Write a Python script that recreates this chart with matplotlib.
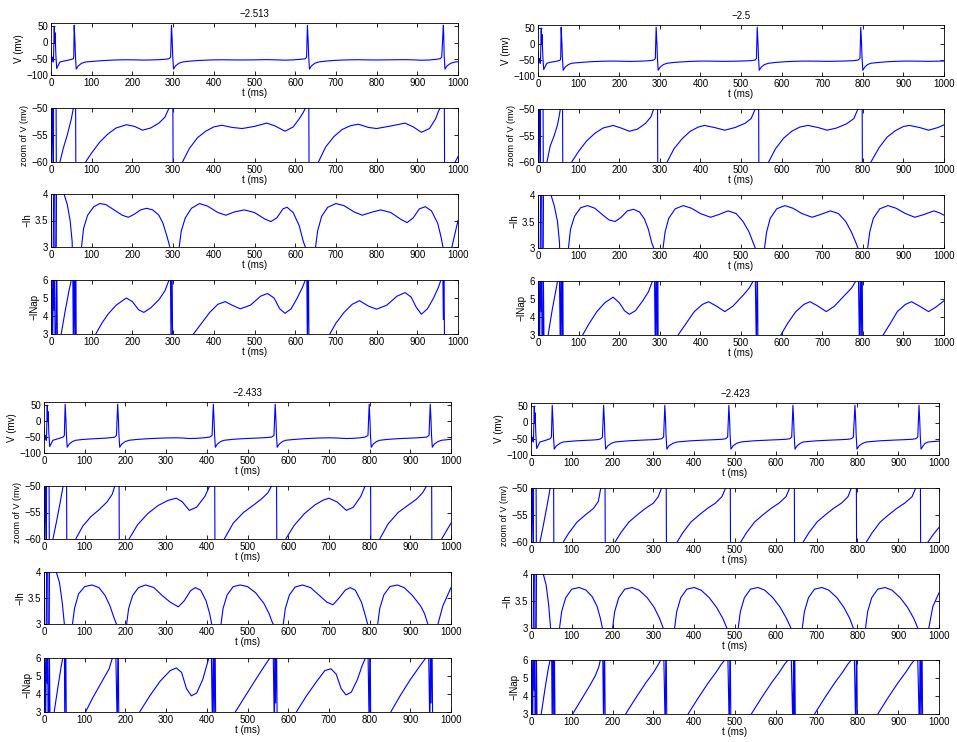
import numpy as np
import matplotlib
matplotlib.use("Agg")
import matplotlib.pyplot as plt
from matplotlib.ticker import FuncFormatter

plt.rcParams['font.family'] = ['Liberation Sans', 'DejaVu Sans']
plt.rcParams['font.size'] = 7

titles = ['\u22122.513', '\u22122.5', '\u22122.433', '\u22122.423']

# membrane potential (t ms, V mV)
v1 = [(0,-20),(2,-60),(4,-45),(6,-60),(8,50),(9,0),(10,30),(12,-40),(14,-80),(17,-72),(22,-60),(30,-57.5),(40,-55),(50,-52),(55,-50),(56,-40),(57,53),(59,0),(60,-40),(62,-82),(67,-72),(75,-64),(85,-60),(100,-58.3),(120,-56.3),(140,-54.8),(160,-53.7),(185,-53.1),(205,-53.4),(225,-54.1),(245,-53.7),(265,-52.8),(280,-51.7),(290,-50),(294,-45),(296,53),(298,0),(299,-40),(301,-82),(306,-72),(314,-64),(323,-60),(340,-57.5),(360,-55.5),(380,-54.3),(400,-53.5),(420,-53.2),(445,-53.6),(470,-53.8),(500,-53.4),(530,-52.8),(550,-53.3),(575,-54.3),(595,-53.5),(610,-52),(620,-50.8),(625,-50),(628,-45),(630,53),(632,0),(633,-40),(635,-82),(640,-72),(648,-64),(657,-60),(675,-57.2),(695,-55.3),(715,-54),(735,-53.3),(755,-53),(780,-53.6),(800,-53.8),(830,-53.4),(870,-52.8),(890,-53.5),(910,-54.5),(930,-53.8),(945,-52),(952,-50.6),(956,-50),(960,-45),(964,53),(965,20),(966,-40),(968,-82),(973,-72),(982,-64),(993,-60),(1000,-59)]
v2 = [(0,-20),(2,-60),(4,-45),(6,-60),(8,50),(9,0),(10,30),(12,-40),(14,-80),(17,-72),(22,-60),(30,-57),(40,-55),(48,-53),(53,-51),(55,-50),(56,-40),(57,53),(59,0),(60,-40),(62,-82),(67,-72),(75,-64),(83,-60),(100,-58),(120,-56),(140,-54.6),(160,-53.6),(185,-53.1),(205,-53.6),(225,-54.2),(245,-53.8),(265,-52.7),(278,-51.5),(285,-50),(289,-45),(291,53),(293,0),(294,-40),(296,-82),(301,-72),(309,-64),(318,-60),(335,-57.5),(355,-55.6),(375,-54.2),(395,-53.4),(410,-53.1),(435,-53.5),(460,-54),(485,-53.5),(510,-52.7),(525,-51.8),(535,-50),(538,-45),(540,53),(542,0),(543,-40),(545,-82),(550,-72),(558,-64),(568,-60),(585,-57.5),(605,-55.5),(625,-54.2),(645,-53.4),(665,-53.1),(690,-53.5),(712,-54),(735,-53.6),(760,-52.8),(778,-51.8),(788,-50),(793,-45),(795,53),(797,0),(798,-40),(800,-82),(805,-72),(812,-64),(820,-60),(840,-57.3),(860,-55.3),(880,-54.1),(900,-53.3),(915,-53.1),(940,-53.5),(962,-54),(985,-53.5),(1000,-53)]
v3 = [(0,-20),(2,-60),(4,-45),(6,-60),(8,50),(9,0),(10,30),(12,-40),(14,-80),(17,-72),(22,-60),(30,-57),(40,-53),(47,-50),(50,-45),(52,53),(54,0),(55,-40),(57,-82),(62,-72),(70,-64),(78,-60),(95,-57.6),(115,-55.8),(135,-54.5),(155,-53),(168,-51.5),(174,-50),(178,-45),(181,53),(183,0),(184,-40),(186,-82),(191,-72),(200,-64),(209,-60),(230,-57.3),(255,-55.2),(280,-53.7),(305,-52.7),(325,-52.3),(340,-53),(357,-54.6),(375,-54),(395,-52),(407,-50),(413,-45),(416,53),(418,0),(419,-40),(421,-82),(426,-72),(434,-64),(443,-60),(465,-57),(490,-55),(515,-53.6),(535,-52.4),(550,-51.3),(559,-50),(565,-45),(568,53),(570,0),(571,-40),(573,-82),(578,-72),(586,-64),(594,-60),(615,-57.4),(640,-55.2),(665,-53.6),(685,-52.7),(700,-52.3),(720,-53),(743,-54.6),(760,-54),(778,-52),(789,-50),(796,-45),(799,53),(801,0),(802,-40),(804,-82),(809,-72),(817,-64),(825,-60),(845,-57.2),(870,-55),(895,-53.6),(915,-52.5),(930,-51.3),(940,-50),(946,-45),(949,53),(951,0),(952,-40),(954,-82),(959,-72),(968,-64),(977,-60),(1000,-57)]
v4 = [(0,-20),(2,-60),(4,-45),(6,-60),(8,50),(9,0),(10,30),(12,-40),(14,-80),(17,-72),(22,-60),(30,-57),(40,-53),(47,-50),(50,-45),(52,53),(54,0),(55,-40),(57,-82),(62,-72),(71,-64),(79,-60),(93,-58.3),(113,-56.3),(133,-55),(153,-53.8),(165,-52.5),(171,-50),(175,-45),(178,53),(180,0),(181,-40),(183,-82),(188,-72),(197,-64),(206,-60),(220,-58.3),(240,-56.3),(260,-55),(280,-53.8),(300,-52.8),(312,-51.6),(320,-50),(325,-45),(328,53),(330,0),(331,-40),(333,-82),(338,-72),(348,-64),(358,-60),(372,-58.3),(392,-56.3),(412,-55),(432,-53.8),(452,-52.8),(468,-51.6),(477,-50),(482,-45),(485,53),(487,0),(488,-40),(490,-82),(495,-72),(504,-64),(514,-60),(528,-58.3),(548,-56.3),(568,-55),(588,-53.8),(608,-52.8),(625,-51.6),(634,-50),(639,-45),(642,53),(644,0),(645,-40),(647,-82),(652,-72),(660,-64),(667,-60),(681,-58.3),(701,-56.3),(721,-55),(741,-53.8),(761,-52.8),(777,-51.6),(785,-50),(790,-45),(794,53),(796,0),(797,-40),(799,-82),(804,-72),(813,-64),(822,-60),(836,-58.3),(856,-56.3),(876,-55),(896,-53.8),(916,-52.8),(934,-51.6),(943,-50),(948,-45),(951,53),(953,0),(954,-40),(956,-82),(961,-72),(966,-64),(973,-60),(987,-58.5),(1000,-57.3)]

# -Ih
ih1 = [(0,5),(2,2),(5,2),(7,5),(9,5),(10,2),(12,2),(13,3.2),(14,5),(25,4.3),(32,4),(40,3.8),(47,3.5),(52,3.1),(55,2),(65,2),(75,3),(80,3.35),(90,3.6),(105,3.76),(120,3.82),(135,3.8),(155,3.7),(175,3.6),(190,3.56),(205,3.62),(220,3.7),(235,3.73),(250,3.7),(265,3.6),(275,3.45),(285,3.2),(292,3),(296,2),(310,2),(315,3),(320,3.3),(330,3.55),(345,3.73),(365,3.82),(385,3.77),(410,3.65),(430,3.6),(450,3.66),(475,3.7),(500,3.65),(525,3.53),(540,3.48),(555,3.55),(570,3.72),(580,3.75),(595,3.65),(610,3.4),(620,3.1),(625,3),(628,2),(645,2),(650,3),(655,3.3),(665,3.58),(680,3.75),(700,3.82),(720,3.78),(745,3.66),(765,3.6),(785,3.65),(810,3.7),(835,3.65),(860,3.52),(875,3.46),(890,3.55),(905,3.72),(920,3.76),(935,3.68),(950,3.45),(958,3.2),(963,3),(966,2),(983,2),(985,3),(1000,3.5)]
ih2 = [(0,5),(2,2),(5,2),(7,5),(9,5),(10,2),(12,2),(13,3.2),(14,5),(25,4.3),(32,4),(40,3.8),(48,3.5),(53,3.1),(55,2),(70,2),(75,3),(80,3.35),(90,3.6),(105,3.76),(122,3.8),(140,3.75),(160,3.62),(175,3.53),(190,3.5),(205,3.58),(220,3.7),(235,3.73),(250,3.68),(262,3.55),(272,3.35),(280,3.1),(285,3),(288,2),(305,2),(308,3),(313,3.3),(322,3.56),(338,3.74),(358,3.8),(378,3.75),(400,3.65),(425,3.58),(445,3.63),(468,3.7),(488,3.65),(505,3.5),(520,3.3),(530,3.1),(535,3),(538,2),(555,2),(558,3),(563,3.3),(572,3.56),(588,3.74),(608,3.8),(628,3.75),(650,3.65),(675,3.58),(695,3.63),(720,3.7),(740,3.65),(758,3.5),(772,3.3),(783,3.1),(788,3),(791,2),(809,2),(812,3),(817,3.3),(826,3.56),(842,3.74),(862,3.8),(882,3.75),(905,3.65),(928,3.58),(950,3.63),(975,3.7),(990,3.66),(1000,3.62)]
ih3 = [(0,5),(2,2),(5,2),(7,5),(9,5),(10,2),(12,2),(13,3.3),(14,5),(25,4.3),(30,4),(38,3.8),(45,3.4),(50,3),(53,2),(66,2),(70,3),(75,3.3),(85,3.58),(100,3.72),(118,3.75),(135,3.7),(150,3.55),(162,3.35),(172,3.12),(178,3),(181,2),(200,2),(203,3),(208,3.3),(218,3.55),(232,3.7),(250,3.75),(270,3.7),(290,3.55),(310,3.42),(330,3.33),(345,3.45),(360,3.64),(372,3.7),(385,3.65),(398,3.45),(407,3.2),(412,3),(415,2),(432,2),(435,3),(440,3.3),(450,3.56),(465,3.72),(482,3.75),(500,3.72),(520,3.6),(540,3.4),(553,3.2),(560,3.05),(563,3),(566,2),(585,2),(588,3),(593,3.3),(603,3.56),(617,3.71),(635,3.75),(655,3.7),(675,3.56),(695,3.42),(710,3.37),(725,3.5),(740,3.65),(752,3.7),(765,3.65),(780,3.42),(790,3.15),(795,3),(798,2),(817,2),(820,3),(825,3.3),(835,3.56),(850,3.72),(868,3.75),(885,3.7),(905,3.55),(925,3.35),(935,3.2),(943,3),(946,2),(965,2),(968,3),(980,3.35),(1000,3.7)]
ih4 = [(0,5),(2,2),(5,2),(7,5),(9,5),(10,2),(12,2),(13,3.3),(14,5),(25,4.3),(30,4),(37,3.8),(43,3.45),(48,3),(51,2),(67,2),(70,3),(75,3.3),(85,3.56),(100,3.72),(118,3.75),(135,3.7),(150,3.58),(162,3.4),(170,3.18),(175,3),(178,2),(197,2),(200,3),(205,3.3),(215,3.56),(230,3.72),(248,3.75),(265,3.7),(285,3.56),(302,3.38),(315,3.18),(324,3),(327,2),(349,2),(352,3),(357,3.3),(367,3.56),(382,3.72),(400,3.75),(417,3.7),(437,3.56),(455,3.38),(470,3.18),(480,3),(483,2),(505,2),(508,3),(513,3.3),(523,3.56),(538,3.72),(556,3.75),(573,3.7),(593,3.56),(611,3.38),(626,3.18),(637,3),(640,2),(662,2),(665,3),(670,3.3),(680,3.56),(695,3.72),(713,3.75),(730,3.7),(750,3.56),(767,3.38),(781,3.18),(790,3),(793,2),(817,2),(820,3),(825,3.3),(835,3.56),(850,3.72),(868,3.75),(885,3.7),(905,3.56),(923,3.38),(938,3.18),(948,3),(951,2),(972,2),(975,3),(985,3.4),(1000,3.65)]

# -INap
inap1 = [(0,2),(2,7),(4,2),(6,7),(8,4.3),(9,7),(10,2),(12,2),(14,7),(16,2),(25,3),(35,4.3),(45,5.5),(50,6),(53,8),(55,2),(57,8),(59,2),(61,8),(62,2),(105,2),(110,3),(125,3.6),(140,4.1),(160,4.6),(185,5),(200,4.8),(215,4.35),(228,4.2),(245,4.45),(265,4.9),(280,5.4),(290,6),(293,8),(295,2),(297,8),(299,2),(340,2),(350,3),(370,3.6),(390,4.2),(410,4.65),(428,4.8),(445,4.6),(465,4.4),(490,4.6),(515,5.1),(532,5.25),(548,5),(562,4.4),(575,4.15),(590,4.4),(605,5),(618,5.6),(625,6),(628,8),(630,2),(632,8),(634,2),(680,2),(685,3),(700,3.6),(720,4.2),(740,4.65),(758,4.85),(780,4.55),(800,4.38),(825,4.6),(850,5.1),(870,5.3),(885,5.05),(897,4.5),(910,4.1),(925,4.4),(940,5),(952,5.6),(958,6),(962,8),(964,3.8),(965,8),(967,2),(1000,2)]
inap2 = [(0,2),(2,7),(4,2),(6,7),(8,4.3),(9,7),(10,2),(12,2),(13,7),(15,2),(25,3),(35,4.4),(45,5.6),(48,6),(52,8),(55,2),(57,8),(59,2),(61,8),(62,2),(105,2),(110,3),(125,3.6),(145,4.3),(165,4.8),(185,5.1),(200,4.8),(213,4.35),(225,4.15),(240,4.35),(258,4.9),(272,5.4),(282,6),(286,8),(289,2),(291,8),(293,2),(295,8),(296,2),(340,2),(345,3),(365,3.65),(385,4.3),(405,4.7),(420,4.85),(440,4.6),(460,4.3),(480,4.6),(505,5.2),(520,5.6),(530,6),(534,8),(538,2),(540,8),(542,2),(594,2),(598,3),(615,3.65),(635,4.3),(655,4.7),(670,4.85),(690,4.6),(710,4.3),(730,4.6),(755,5.2),(772,5.6),(783,6),(788,8),(792,2),(794,8),(796,2),(798,8),(800,2),(845,2),(850,3),(868,3.65),(885,4.3),(905,4.7),(920,4.85),(940,4.6),(962,4.3),(980,4.55),(1000,4.9)]
inap3 = [(0,2),(2,7),(4,2),(6,7),(8,4.6),(9,7),(10,2),(12,2),(13,7),(15,2),(25,3),(35,4.5),(42,5.5),(46,6),(50,8),(51,2),(53,8),(55,2),(98,2),(102,3),(120,3.8),(140,4.6),(160,5.4),(168,6),(175,8),(180,2),(182,8),(184,2),(230,2),(235,3),(260,3.9),(285,4.7),(310,5.3),(325,5.45),(338,5.2),(350,4.3),(362,3.9),(375,4.05),(390,4.8),(400,5.6),(405,6),(410,8),(414,2),(416,8),(418,2),(420,8),(422,2),(466,2),(470,3),(495,3.9),(520,4.8),(540,5.5),(555,6),(562,8),(566,2),(568,8),(569,3.5),(571,8),(573,2),(615,2),(620,3),(645,3.9),(670,4.7),(690,5.3),(705,5.4),(718,5.1),(730,4.3),(742,3.95),(755,4.1),(770,4.8),(782,5.6),(790,6),(795,8),(799,2),(801,8),(803,2),(848,2),(852,3),(875,3.9),(900,4.8),(925,5.6),(938,6),(944,8),(948,2),(950,8),(951,3.5),(953,8),(955,2),(1000,2)]
inap4 = [(0,2),(2,7),(4,2),(6,7),(8,4.3),(9,7),(10,2),(12,2),(13,7),(15,2),(25,3),(35,4.5),(43,5.6),(47,6),(50,8),(52,2),(54,8),(56,2),(57,8),(59,2),(98,2),(102,3),(122,3.75),(142,4.5),(157,5.1),(166,5.6),(170,6),(175,8),(178,2),(180,8),(182,2),(228,2),(232,3),(257,3.9),(282,4.75),(300,5.3),(312,5.75),(318,6),(324,8),(329,2),(331,8),(333,2),(381,2),(385,3),(410,3.9),(435,4.75),(453,5.3),(466,5.75),(475,6),(481,8),(486,2),(488,8),(490,2),(536,2),(540,3),(565,3.9),(590,4.75),(608,5.3),(621,5.75),(630,6),(636,8),(642,2),(644,8),(645,3),(646,8),(648,2),(691,2),(695,3),(720,3.9),(745,4.75),(763,5.3),(776,5.75),(785,6),(791,8),(796,2),(798,8),(800,2),(846,2),(850,3),(875,3.9),(900,4.75),(918,5.3),(931,5.75),(940,6),(946,8),(952,2),(954,8),(956,2),(958,8),(960,2),(1000,2)]

V = [v1, v2, v3, v4]
IH = [ih1, ih2, ih3, ih4]
INAP = [inap1, inap2, inap3, inap4]

W, H = 957, 742
# pixel boxes per group: left, right, [(top, bottom) for the 4 rows]
groups = [
    (51, 458, [(23, 75), (108, 162), (194, 247), (280, 334)]),
    (538, 944, [(25, 76), (109, 162), (195, 248), (281, 335)]),
    (44, 451, [(402, 453), (486, 539), (572, 624), (658, 712)]),
    (531, 939, [(403, 455), (488, 542), (574, 628), (660, 714)]),
]

rows = [
    ('V (mv)', (-100, 60), [-100, -50, 0, 50]),
    ('zoom of V (mv)', (-60, -50), [-60, -55, -50]),
    ('\u2212Ih', (3, 4), [3, 3.5, 4]),
    ('\u2212INap', (3, 6), [3, 4, 5, 6]),
]

fmt = FuncFormatter(lambda x, pos: ('%g' % x).replace('-', '\u2212'))

fig = plt.figure(figsize=(W / 100, H / 100), dpi=100)

for g, (left, right, boxes) in enumerate(groups):
    series = [V[g], V[g], IH[g], INAP[g]]
    for r, (top, bot) in enumerate(boxes):
        ax = fig.add_axes([left / W, 1 - bot / H, (right - left) / W, (bot - top) / H])
        t, y = zip(*series[r])
        ax.plot(t, y, color='blue', lw=0.8)
        label, ylim, yt = rows[r]
        ax.set_xlim(0, 1000)
        ax.set_ylim(*ylim)
        ax.set_xticks(np.arange(0, 1001, 100))
        ax.set_yticks(yt)
        ax.yaxis.set_major_formatter(fmt)
        ax.tick_params(direction='in', length=3, width=0.6, top=True, right=True,
                       labelsize=7, pad=2)
        ax.set_xlabel('t (ms)', fontsize=7, labelpad=0)
        ax.set_ylabel(label, fontsize=6.5 if r == 1 else 7, labelpad=2)
        for s in ax.spines.values():
            s.set_linewidth(0.6)
        if r == 0:
            ax.set_title(titles[g], fontsize=7, pad=4)

fig.savefig('out.png', dpi=100)
